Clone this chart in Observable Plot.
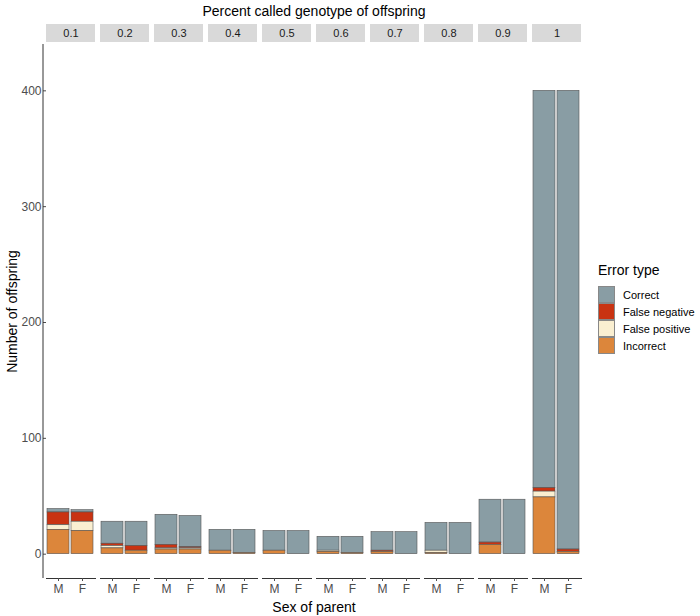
<!DOCTYPE html>
<html>
<head>
<meta charset="utf-8">
<script src="https://cdn.jsdelivr.net/npm/d3@7"></script>
<script src="https://cdn.jsdelivr.net/npm/@observablehq/plot@0.6"></script>
<style>
  html, body { margin: 0; padding: 0; background: #fff; }
  #wrap { position: relative; width: 700px; height: 616px; font-family: "Liberation Sans", Arial, sans-serif; }
  #legend { position: absolute; left: 598px; top: 262px; color: #000; }
  #legend .title { font-size: 14px; margin-bottom: 8px; }
  #legend .row { display: flex; align-items: center; height: 17px; font-size: 11px; }
  #legend .sw { width: 17px; height: 17px; box-sizing: border-box; border: 0.5px solid #888; margin-right: 8px; }
</style>
</head>
<body>
<div id="wrap"><div id="chart"></div><div id="legend"></div></div>
<script>
const percents = ["0.1", "0.2", "0.3", "0.4", "0.5", "0.6", "0.7", "0.8", "0.9", "1"];
const sexes = ["M", "F"];
const errorTypes = ["Correct", "False negative", "False positive", "Incorrect"];
const errorColors = ["#899DA4", "#C93312", "#FAEFD1", "#DC863B"];
// values per (percent, sex): M, F for 0.1 ... 1
const correct       = [3, 2, 19, 21, 26, 27, 18, 20, 17, 20, 12, 14, 16, 19, 24, 27, 37, 47, 343, 396];
const falseNegative = [11, 8, 2, 4, 3, 1, 0, 0, 0, 0, 0, 0, 1, 0, 0, 0, 2, 0, 3, 2];
const falsePositive = [4, 8, 2, 0, 1, 1, 0, 0, 0, 0, 1, 0, 0, 0, 2, 0, 0, 0, 5, 0];
const incorrect     = [21, 20, 5, 3, 4, 4, 3, 1, 3, 0, 2, 1, 2, 0, 1, 0, 8, 0, 49, 2];
const yTicks = [0, 100, 200, 300, 400];

const series = [correct, falseNegative, falsePositive, incorrect];
const rows = [];
for (let i = 0; i < correct.length; i++) {
  errorTypes.forEach((t, k) => {
    rows.push({percent: percents[Math.floor(i / 2)], sex: sexes[i % 2], type: t, count: series[k][i]});
  });
}

const W = 700, H = 616, mL = 43, mR = 116, mT = 44, mB = 38;
const plot = Plot.plot({
  width: W, height: H,
  marginLeft: mL, marginRight: mR, marginTop: mT, marginBottom: mB,
  style: {fontFamily: "'Liberation Sans', Arial, sans-serif", fontSize: "11px", color: "#4d4d4d", background: "#fff"},
  fx: {domain: percents, paddingInner: 0.1, paddingOuter: 0},
  x: {domain: sexes, paddingInner: 0.08, paddingOuter: 0.06},
  y: {domain: [-21, 440]},
  color: {domain: errorTypes, range: errorColors},
  marks: [
    Plot.barY(rows, Plot.stackY({order: ["Incorrect", "False positive", "False negative", "Correct"]}, {
      fx: "percent", x: "sex", y: "count", fill: "type", stroke: "#555", strokeWidth: 0.6
    })),
    Plot.frame({anchor: "bottom", stroke: "#333"}),
    Plot.axisY({ticks: yTicks, tickSize: 3, tickPadding: 2, label: "Number of offspring", labelAnchor: "center", labelArrow: "none", labelOffset: 39}),
    Plot.axisX({tickSize: 3, tickPadding: 3, label: null}),
    Plot.axisFx({anchor: "top", tickSize: 0, tickPadding: 8, label: "Percent called genotype of offspring", labelAnchor: "center", labelArrow: "none", labelOffset: 38}),
    Plot.axisFx({anchor: "bottom", ticks: [], label: "Sex of parent", labelAnchor: "center", labelArrow: "none", labelOffset: 33})
  ]
});

// facet strips and y axis line
const svg = d3.select(plot);
const fx = plot.scale("fx");
const strips = svg.insert("g", ":first-child");
percents.forEach(p => {
  strips.append("rect")
    .attr("x", fx.apply(p)).attr("y", mT - 20)
    .attr("width", fx.bandwidth).attr("height", 18)
    .attr("fill", "#D9D9D9");
});
svg.append("line")
  .attr("x1", mL).attr("x2", mL).attr("y1", mT).attr("y2", H - mB)
  .attr("stroke", "#333").attr("stroke-width", 1);
svg.selectAll('g[aria-label$="axis label"] text').attr("fill", "#000").style("font-size", "14px");
svg.selectAll('g[aria-label="fx-axis tick label"] text').attr("fill", "#1a1a1a");
svg.selectAll('g[aria-label="y-axis tick label"] text, g[aria-label="x-axis tick label"] text').style("font-size", "12px");

document.getElementById("chart").appendChild(plot);

const leg = d3.select("#legend");
leg.append("div").attr("class", "title").text("Error type");
errorTypes.forEach((t, i) => {
  const r = leg.append("div").attr("class", "row");
  r.append("div").attr("class", "sw").style("background", errorColors[i]);
  r.append("span").text(t);
});
</script>
</body>
</html>
